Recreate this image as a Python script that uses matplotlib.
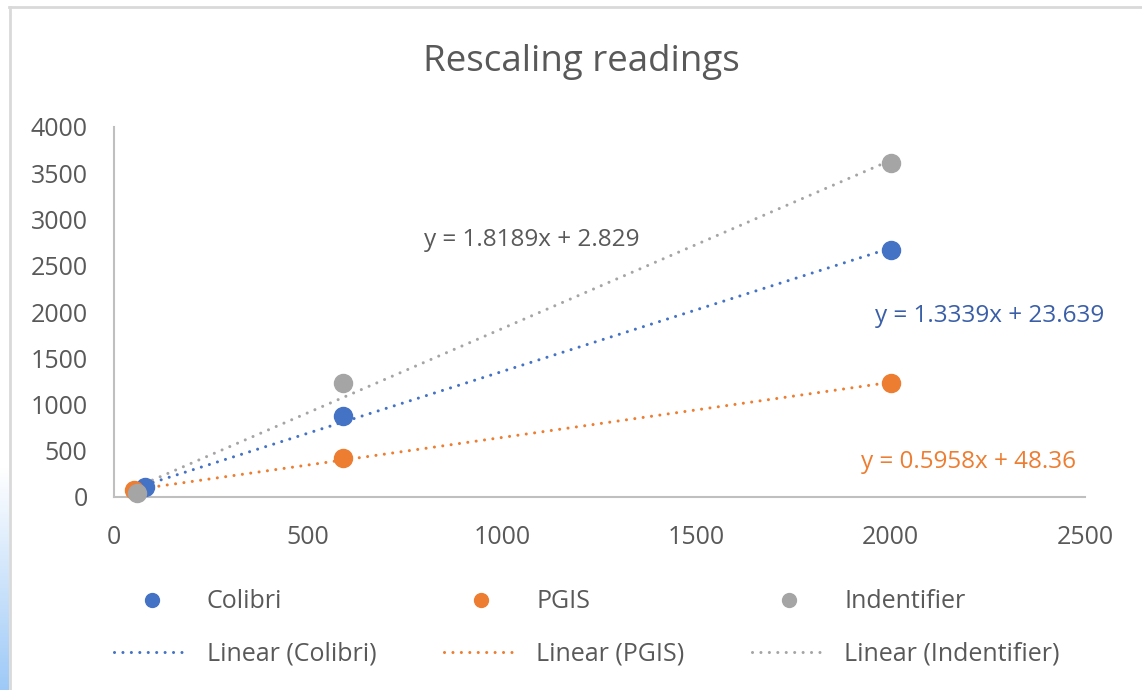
import numpy as np
import matplotlib.pyplot as plt
from matplotlib.lines import Line2D

plt.rcParams['font.family'] = ['Open Sans', 'DejaVu Sans']

# data
colibri_x = [80, 590, 2000]
colibri_y = [108, 880, 2670]
pgis_x = [51, 590, 2000]
pgis_y = [75, 420, 1230]
ident_x = [59, 590, 2000]
ident_y = [43, 1230, 3610]

# trendline coefficients as printed on the chart
colibri_fit = (1.3339, 23.639)
pgis_fit = (0.5958, 48.36)
ident_fit = (1.8189, 2.829)

names = ["Colibri", "PGIS", "Indentifier"]
colors = ["#4472C4", "#ED7D31", "#A5A5A5"]
eq_colors = ["#3A5FA8", "#ED7D31", "#595959"]
eq_pos = [(2255, 1957), (2199, 378), (1076, 2778)]

W, H = 1142, 690
fig = plt.figure(figsize=(W / 100, H / 100), dpi=100)
ax = fig.add_axes([114 / W, 1 - 497 / H, (1085 - 114) / W, (497 - 127) / H])

series = [(colibri_x, colibri_y, colibri_fit),
          (pgis_x, pgis_y, pgis_fit),
          (ident_x, ident_y, ident_fit)]

dot = (0, (0.01, 2.75))
handles = []
for (xs, ys, (m, b)), name, c, ec, pos in zip(series, names, colors, eq_colors, eq_pos):
    ax.plot(xs, ys, 'o', color=c, ms=13, zorder=3, clip_on=False)
    tx = np.array([min(xs), max(xs)])
    ax.plot(tx, m * tx + b, color=c, lw=2.2, linestyle=dot,
            dash_capstyle='round', zorder=2)
    sign = '+' if b >= 0 else '-'
    ax.text(pos[0], pos[1], f"y = {m}x {sign} {abs(b)}", color=ec,
            fontsize=17.5, ha='center', va='center')
    handles.append(Line2D([], [], marker='o', color=c, ms=10, lw=0, label=name))
    handles.append(Line2D([], [], color=c, lw=2.2, linestyle=dot,
                          dash_capstyle='round', label=f"Linear ({name})"))

ax.set_xlim(0, 2500)
ax.set_ylim(0, 4000)
ax.set_xticks(np.arange(0, 2501, 500))
ax.set_yticks(np.arange(0, 4001, 500))
for s in ['top', 'right']:
    ax.spines[s].set_visible(False)
for s in ['left', 'bottom']:
    ax.spines[s].set_color('#BFBFBF')
    ax.spines[s].set_linewidth(1.5)
ax.tick_params(length=0, labelsize=18, labelcolor='#595959')
ax.tick_params(axis='y', pad=19)
ax.tick_params(axis='x', pad=20)

fig.text(581 / W, 1 - 62 / H, "Rescaling readings", fontsize=26.5,
         color='#595959', ha='center', va='center')

fig.legend(handles=handles, ncol=3, loc='center',
           bbox_to_anchor=(587 / W, 1 - 628 / H), frameon=False,
           fontsize=18, labelcolor='#595959', handlelength=3.0,
           handletextpad=0.7, columnspacing=2.7, labelspacing=1.1,
           numpoints=1)

# frame and the blue strip at the left edge
gy = np.linspace(0, 1, 256)
t = np.clip((gy - 0.68) / 0.32, 0, 1)[:, None, None]
top = np.array([1, 1, 1])
bot = np.array([0.62, 0.79, 0.97])
grad = top * (1 - t) + bot * t
sax = fig.add_axes([0, 0, 9 / W, 1])
sax.imshow(grad, aspect='auto', extent=[0, 1, 1, 0])
sax.axis('off')
fig.add_artist(Line2D([9 / W, 1], [1 - 7 / H, 1 - 7 / H], color='#D9D9D9', lw=2))
fig.add_artist(Line2D([10 / W, 10 / W], [0, 1 - 7 / H], color='#D9D9D9', lw=2))

fig.savefig("out.png", dpi=100)
